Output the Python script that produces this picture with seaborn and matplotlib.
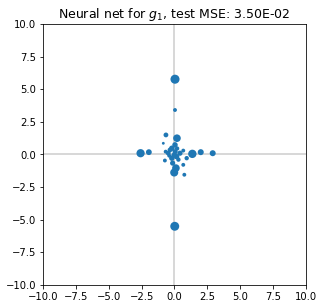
import matplotlib
matplotlib.use("Agg")
import matplotlib.pyplot as plt
import pandas as pd
import seaborn as sns

# predicted points (x, y) and marker sizes
x_vals = [0.04, 0.02, 0.04, 0.19, -2.58, -1.95, 1.36, 2.00, 2.91,
          -0.65, -0.85, -0.67, -0.20, 0.04, -0.34, 0.67, 0.42, -0.47,
          -0.73, -0.20, 0.16, 0.93, 0.67, -0.14, 0.11, -0.02, 0.75,
          0.05, -0.05, 0.30, -0.40, 0.20]
y_vals = [5.76, -5.51, 3.40, 1.24, 0.09, 0.17, 0.04, 0.17, 0.09,
          1.49, 0.85, 0.21, 0.47, 0.73, 0.34, 0.29, 0.09, 0.09,
          -0.47, -0.29, -0.17, -0.29, -0.80, -0.67, -1.05, -1.39, -1.56,
          0.20, -0.05, -0.40, -0.10, 0.45]
s_vals = [82, 80, 15, 58, 68, 34, 70, 36, 36,
          23, 8, 15, 30, 30, 23, 15, 27, 23,
          15, 30, 30, 19, 15, 27, 58, 65, 15,
          27, 23, 19, 15, 19]

title = r"Neural net for $g_1$, test MSE: 3.50E-02"

df = pd.DataFrame({"x": x_vals, "y": y_vals, "s": s_vals})

fig = plt.figure(figsize=(4.5, 4.28), dpi=72)
ax = fig.add_axes([0.133, 0.075, 0.811, 0.847])

# reference lines through the origin
ax.axhline(0, color="#cccccc", linewidth=1.5, zorder=0)
ax.axvline(0, color="#cccccc", linewidth=1.5, zorder=0)

sns.scatterplot(data=df, x="x", y="y", size="s", sizes=(min(s_vals), max(s_vals)),
                size_norm=(min(s_vals), max(s_vals)), color="#1f77b4",
                linewidth=0, legend=False, ax=ax, zorder=3)

ax.set_xlim(-10, 10)
ax.set_ylim(-10, 10)
ax.set_xticks([-10, -7.5, -5, -2.5, 0, 2.5, 5, 7.5, 10])
ax.set_yticks([-10, -7.5, -5, -2.5, 0, 2.5, 5, 7.5, 10])
ax.set_xlabel("")
ax.set_ylabel("")
ax.set_title(title, fontsize=12.5)

fig.savefig("out.png", dpi=72)
